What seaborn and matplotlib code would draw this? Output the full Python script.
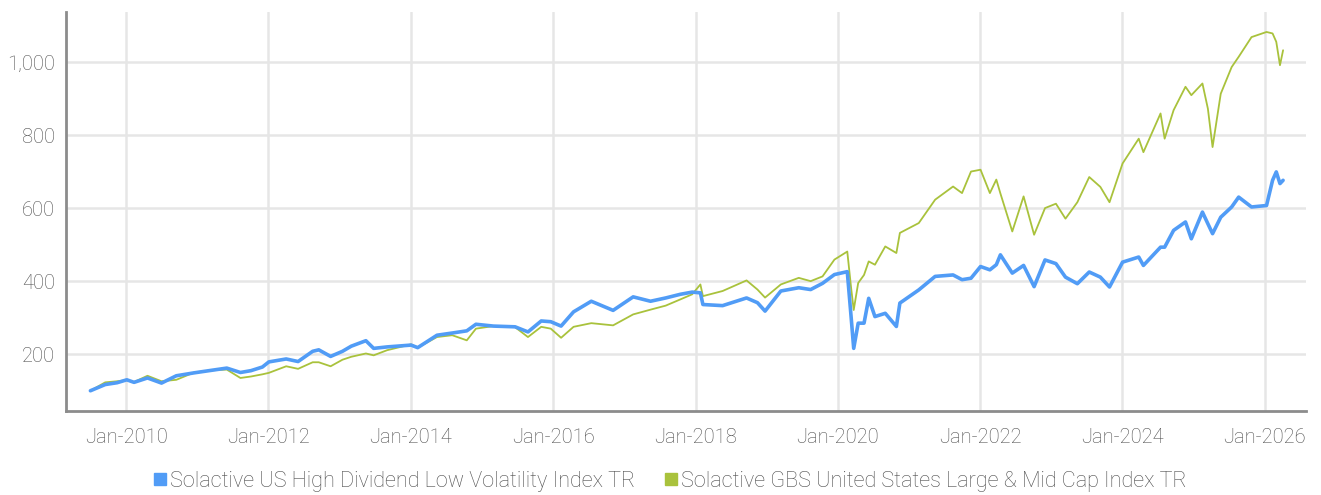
import pandas as pd
import seaborn as sns
import matplotlib.pyplot as plt
import matplotlib.dates as mdates
from matplotlib.lines import Line2D
from matplotlib.ticker import FuncFormatter

# values (index levels)
dates = ["2009-07-01", "2009-09-15", "2009-11-15", "2010-01-04", "2010-02-10", "2010-04-20",
         "2010-07-01", "2010-09-15", "2010-12-15", "2011-03-15", "2011-06-01", "2011-08-10",
         "2011-10-03", "2011-12-01", "2012-01-03", "2012-04-01", "2012-06-01", "2012-08-15",
         "2012-09-15", "2012-11-15", "2013-01-15", "2013-03-01", "2013-05-15", "2013-06-24",
         "2013-09-01", "2014-01-02", "2014-02-05", "2014-05-15", "2014-08-01", "2014-10-15",
         "2014-12-01", "2015-03-01", "2015-06-20", "2015-08-25", "2015-11-01", "2015-12-20",
         "2016-02-11", "2016-04-15", "2016-07-15", "2016-11-04", "2017-02-15", "2017-05-15",
         "2017-08-01", "2017-10-15", "2017-12-15", "2018-01-26", "2018-02-08", "2018-05-20",
         "2018-09-20", "2018-11-15", "2018-12-24", "2019-03-15", "2019-06-15", "2019-08-15",
         "2019-10-15", "2019-12-15", "2020-02-19", "2020-03-10", "2020-03-23", "2020-04-15",
         "2020-05-15", "2020-06-08", "2020-07-10", "2020-09-01", "2020-10-28", "2020-11-15",
         "2021-02-20", "2021-05-15", "2021-08-15", "2021-09-30", "2021-11-15", "2022-01-03",
         "2022-02-20", "2022-03-25", "2022-04-15", "2022-06-15", "2022-08-12", "2022-10-05",
         "2022-11-30", "2023-01-25", "2023-03-15", "2023-05-15", "2023-07-15", "2023-09-10",
         "2023-10-27", "2024-01-02", "2024-03-25", "2024-04-18", "2024-07-15", "2024-08-05",
         "2024-09-20", "2024-11-20", "2024-12-20", "2025-02-15", "2025-03-15", "2025-04-08",
         "2025-05-20", "2025-07-15", "2025-08-20", "2025-10-25", "2026-01-10", "2026-02-10",
         "2026-03-01", "2026-03-20", "2026-04-05"]

high_div = [100, 117, 122, 130, 123, 135, 121, 141, 149, 156, 162, 150,
            155, 165, 179, 187, 180, 208, 212, 194, 208, 222, 237, 216,
            220, 225, 218, 252, 258, 264, 282, 277, 275, 261, 291, 289,
            277, 316, 345, 320, 357, 345, 354, 364, 370, 368, 336, 333,
            354, 341, 318, 373, 382, 377, 394, 418, 426, 300, 216, 285,
            285, 353, 303, 312, 276, 340, 376, 413, 417, 404, 408, 440,
            431, 445, 472, 422, 443, 385, 458, 448, 411, 393, 425, 411,
            384, 452, 466, 443, 493, 493, 539, 562, 516, 589, 557, 530,
            575, 603, 630, 603, 607, 676, 699, 667, 676]

large_mid = [100, 123, 126, 129, 124, 141, 126, 130, 150, 156, 158, 135,
             139, 145, 149, 167, 160, 178, 178, 167, 185, 193, 202, 197,
             211, 227, 218, 247, 252, 238, 270, 277, 274, 247, 275, 270,
             245, 275, 285, 279, 309, 322, 333, 350, 364, 391, 359, 373,
             402, 377, 355, 391, 409, 400, 413, 459, 481, 380, 321, 395,
             417, 454, 445, 495, 477, 532, 559, 623, 659, 641, 700, 705,
             641, 678, 640, 536, 632, 527, 600, 612, 571, 616, 685, 658,
             616, 722, 790, 753, 859, 790, 868, 932, 909, 941, 872, 767,
             913, 986, 1014, 1068, 1082, 1078, 1055, 991, 1032]

names = ["Solactive US High Dividend Low Volatility Index TR",
         "Solactive GBS United States Large & Mid Cap Index TR"]
colors = ["#519CF6", "#A9C23C"]

df = pd.DataFrame({
    "date": pd.to_datetime(dates * 2),
    "value": high_div + large_mid,
    "series": [names[0]] * len(dates) + [names[1]] * len(dates),
})

sns.set_style("white")
plt.rcParams["font.family"] = ["Roboto", "DejaVu Sans"]

fig = plt.figure(figsize=(13.21, 4.95), dpi=100)
ax = fig.add_axes([0.05, 0.17, 0.939, 0.806])

sns.lineplot(data=df[df.series == names[1]], x="date", y="value", color=colors[1],
             linewidth=1.3, ax=ax, zorder=3)
sns.lineplot(data=df[df.series == names[0]], x="date", y="value", color=colors[0],
             linewidth=2.6, ax=ax, zorder=4)

ax.set_xlim(pd.Timestamp("2009-02-26"), pd.Timestamp("2026-08-03"))
ax.set_ylim(45, 1137)
ax.set_yticks([200, 400, 600, 800, 1000])
ax.yaxis.set_major_formatter(FuncFormatter(lambda v, p: f"{v:,.0f}"))
ax.set_xticks(pd.to_datetime([f"{y}-01-01" for y in range(2010, 2027, 2)]))
ax.xaxis.set_major_formatter(mdates.DateFormatter("%b-%Y"))

ax.grid(True, color="#e6e6e6", linewidth=1.8)
ax.set_axisbelow(True)
for s in ["top", "right"]:
    ax.spines[s].set_visible(False)
for s in ["left", "bottom"]:
    ax.spines[s].set_color("#8c8c8c")
    ax.spines[s].set_linewidth(2)
ax.tick_params(length=0, labelsize=14.5, labelcolor="#4d4d4d")
ax.tick_params(axis="x", pad=12)
ax.tick_params(axis="y", pad=8)
for lab in ax.get_xticklabels() + ax.get_yticklabels():
    lab.set_fontweight("light")
ax.set_xlabel("")
ax.set_ylabel("")

handles = [Line2D([], [], linestyle="none", marker="s", markersize=9,
                  markerfacecolor=c, markeredgecolor=c) for c in colors]
leg = fig.legend(handles, names, loc="center", bbox_to_anchor=(0.506, 0.028),
                 ncol=2, frameon=False, handletextpad=0.0, columnspacing=1.2,
                 handlelength=0.9, prop={"size": 15.6, "weight": "light"})
for t in leg.get_texts():
    t.set_color("#4d4d4d")

fig.savefig("out.png", dpi=100)
